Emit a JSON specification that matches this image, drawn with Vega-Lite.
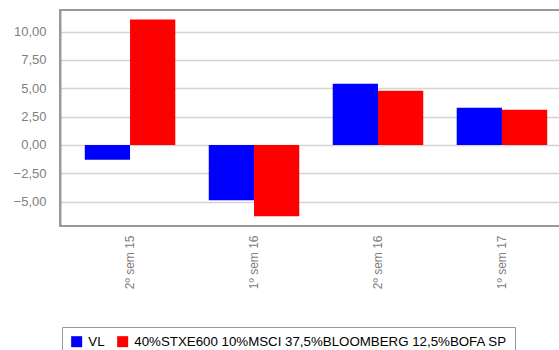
{
  "$schema": "https://vega.github.io/schema/vega-lite/v6.json",
  "width": 512,
  "height": 216,
  "autosize": "none",
  "padding": {"left": 60, "top": 10, "right": 0, "bottom": 124},
  "config": {
    "font": "Liberation Sans",
    "view": {"stroke": "#999999", "strokeWidth": 2}
  },
  "data": {
    "values": [
      {"periodo": "2º sem 15", "serie": "VL", "valor": -1.30},
      {"periodo": "2º sem 15", "serie": "40%STXE600 10%MSCI 37,5%BLOOMBERG 12,5%BOFA SP", "valor": 11.06},
      {"periodo": "1º sem 16", "serie": "VL", "valor": -4.87},
      {"periodo": "1º sem 16", "serie": "40%STXE600 10%MSCI 37,5%BLOOMBERG 12,5%BOFA SP", "valor": -6.28},
      {"periodo": "2º sem 16", "serie": "VL", "valor": 5.40},
      {"periodo": "2º sem 16", "serie": "40%STXE600 10%MSCI 37,5%BLOOMBERG 12,5%BOFA SP", "valor": 4.78},
      {"periodo": "1º sem 17", "serie": "VL", "valor": 3.27},
      {"periodo": "1º sem 17", "serie": "40%STXE600 10%MSCI 37,5%BLOOMBERG 12,5%BOFA SP", "valor": 3.10}
    ]
  },
  "mark": {"type": "bar"},
  "encoding": {
    "x": {
      "field": "periodo",
      "type": "nominal",
      "sort": null,
      "scale": {"paddingInner": 0.27, "paddingOuter": 0.2},
      "axis": {
        "title": null,
        "labelAngle": -90,
        "labelAlign": "right",
        "labelBaseline": "middle",
        "labelFontSize": 12,
        "labelColor": "#808080",
        "labelPadding": 9,
        "ticks": false,
        "domain": false,
        "grid": false
      }
    },
    "xOffset": {
      "field": "serie",
      "type": "nominal",
      "sort": ["VL", "40%STXE600 10%MSCI 37,5%BLOOMBERG 12,5%BOFA SP"],
      "scale": {"paddingInner": 0, "paddingOuter": 0}
    },
    "y": {
      "field": "valor",
      "type": "quantitative",
      "scale": {"domain": [-7.15, 11.9], "nice": false, "zero": false},
      "axis": {
        "title": null,
        "values": [-5, -2.5, 0, 2.5, 5, 7.5, 10],
        "labelExpr": "replace(format(datum.value, '.2f'), '.', ',')",
        "labelFontSize": 13,
        "labelColor": "#808080",
        "labelPadding": 14,
        "ticks": false,
        "domainColor": "#999999",
        "domainWidth": 2,
        "gridColor": "#d4d4d4",
        "gridWidth": 1.5
      }
    },
    "color": {
      "field": "serie",
      "type": "nominal",
      "sort": ["VL", "40%STXE600 10%MSCI 37,5%BLOOMBERG 12,5%BOFA SP"],
      "scale": {"range": ["#0000ff", "#ff0000"]},
      "legend": {
        "title": null,
        "orient": "none",
        "legendX": 2,
        "legendY": 317,
        "direction": "horizontal",
        "symbolType": "square",
        "symbolSize": 121,
        "symbolStrokeWidth": 0,
        "labelFontSize": 13.3,
        "labelColor": "#000000",
        "labelOffset": 5,
        "strokeColor": "#999999",
        "padding": 8,
        "columnPadding": 11,
        "labelLimit": 600
      }
    }
  }
}
